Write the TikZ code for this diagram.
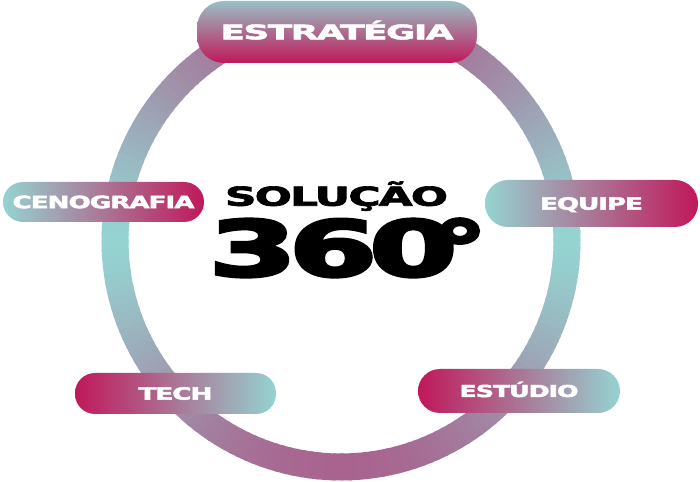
\documentclass[tikz,border=0pt]{standalone}
\usepackage{fontspec}
\setmainfont{DejaVu Sans}
\newfontfamily\heavy{DejaVu Sans}[UprightFont={* Bold}, FakeBold=2.5, LetterSpace=-4]
\newfontfamily\heavyb{DejaVu Sans}[UprightFont={* Bold}, FakeBold=4, LetterSpace=-6]
\usepackage{graphicx}
\definecolor{tealc}{HTML}{95D3D1}
\definecolor{magc}{HTML}{C0185A}
\definecolor{mauvec}{HTML}{A8648F}
\newcommand{\fitT}[3]{\resizebox{#1}{#2}{\heavy\vphantom{E}\smash{#3}}}
\newcommand{\fitB}[3]{\resizebox{#1}{#2}{\heavyb\vphantom{E}\smash{#3}}}
\tikzset{
  ringseg/.style={line width=27pt, line cap=butt},
  pill/.style={left color=tealc, middle color=magc!70!tealc, right color=magc, inner sep=0pt, text=white, draw=none},
  pillrl/.style={left color=magc, middle color=magc!70!tealc, right color=tealc, inner sep=0pt, text=white, draw=none},
  pilltb/.style={top color=tealc!90!magc, middle color=magc!68!tealc, bottom color=magc, inner sep=0pt, text=white, draw=none},
  title/.style={inner sep=0pt, text=black}
}
\begin{document}
\begin{tikzpicture}[x=1pt,y=1pt]
\useasboundingbox (0,0) rectangle (700,481);
\fill[white] (0,0) rectangle (700,481);
% ring
\foreach \a in {0,2,...,358}{
  \pgfmathsetmacro\f{100*abs(sin(\a+1))^1.4}
  \draw[ringseg, color=mauvec!\f!tealc] (341,240) ++(\a:226) arc[start angle=\a, end angle=\a+2.6, radius=226];
}
% pills
\node[pilltb, rounded corners=27pt, minimum width=280pt, minimum height=62pt] (estr) at (337,449) {\fitT{233pt}{14.6pt}{ESTRATÉGIA}};
\node[pill, rounded corners=20pt, minimum width=201pt, minimum height=40pt] (ceno) at (103.5,279) {\fitT{182pt}{12.4pt}{CENOGRAFIA}};
\node[pill, rounded corners=23pt, minimum width=213pt, minimum height=47pt] (equipe) at (591.5,277.5) {\fitT{103pt}{12.3pt}{EQUIPE}};
\node[pillrl, rounded corners=20pt, minimum width=201pt, minimum height=41pt] (tech) at (175.5,87.5) {\fitT{74pt}{12.3pt}{TECH}};
\node[pillrl, rounded corners=22pt, minimum width=202pt, minimum height=44pt] (estudio) at (519,90) {\fitT{119pt}{12pt}{ESTÚDIO}};
% center title
\node[title] (sol) at (336.5,284.8) {\fitT{223pt}{19pt}{SOLUÇÃO}};
\node[title] (num) at (333,233) {\fitB{248pt}{56pt}{360}};
\node[title, anchor=north] (deg) at (460,262.5) {\scalebox{1.45}[1]{\fontsize{76}{76}\heavyb °}};
\end{tikzpicture}
\end{document}
